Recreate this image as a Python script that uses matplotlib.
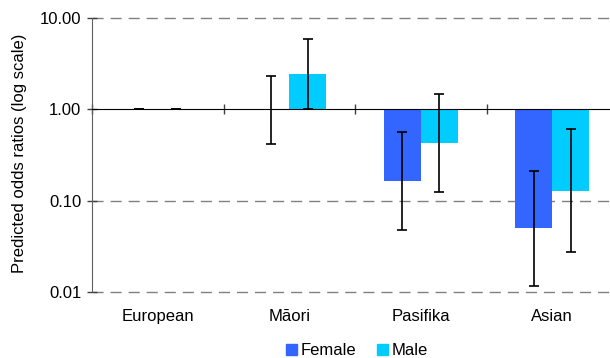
import matplotlib
matplotlib.use("Agg")
import matplotlib.pyplot as plt
import matplotlib.ticker as mticker
from matplotlib.patches import Patch
import numpy as np

categories = ["European", "Māori", "Pasifika", "Asian"]
female = [1.0, 1.0, 0.165, 0.0505]
male = [1.0, 2.41, 0.428, 0.128]
female_lo = [1.0, 0.42, 0.048, 0.0117]
female_hi = [1.0, 2.31, 0.565, 0.212]
male_lo = [1.0, 1.02, 0.125, 0.0272]
male_hi = [1.0, 5.82, 1.48, 0.615]
yticks = [0.01, 0.1, 1, 10]

plt.rcParams['font.family'] = ['Liberation Sans', 'DejaVu Sans']

fig = plt.figure(figsize=(6.1, 3.58), dpi=100)
ax = fig.add_axes([92/610, 66/358, (610-92)/610, 274/358])

x = np.arange(len(categories))
w = 0.28
c_f = '#3366FF'
c_m = '#00CCFF'

f = np.array(female); m = np.array(male)
ax.bar(x - w/2, f - 1, bottom=1, width=w, color=c_f, zorder=2)
ax.bar(x + w/2, m - 1, bottom=1, width=w, color=c_m, zorder=2)

ekw = dict(fmt='none', ecolor='black', elinewidth=1.2, capsize=3.3, capthick=1.2, zorder=4)
ax.errorbar(x - w/2, f, yerr=[f - np.array(female_lo), np.array(female_hi) - f], **ekw)
ax.errorbar(x + w/2, m, yerr=[m - np.array(male_lo), np.array(male_hi) - m], **ekw)

ax.set_yscale('log')

# gridlines
for yv in yticks:
    if yv != 1:
        ax.axhline(yv, color='#808080', lw=1, ls=(0, (8, 5)), zorder=1, clip_on=False)

ax.yaxis.set_major_locator(mticker.FixedLocator(yticks))
ax.yaxis.set_minor_locator(mticker.NullLocator())
ax.yaxis.set_major_formatter(mticker.FormatStrFormatter('%.2f'))
ax.tick_params(axis='y', direction='inout', length=7.5, width=1, color='#404040',
               labelsize=12, pad=4)

for s in ['top', 'right']:
    ax.spines[s].set_visible(False)
ax.spines['left'].set_color('#606060')
ax.spines['bottom'].set_position(('data', 1))
ax.spines['bottom'].set_color('black')
ax.spines['bottom'].set_zorder(3)

# category boundary ticks on the y=1 axis
ax.set_xticks(np.arange(len(categories) + 1) - 0.5)
ax.set_xticklabels([])
ax.tick_params(axis='x', direction='inout', length=7.5, width=1, color='#404040')

sec = ax.secondary_xaxis('bottom')
sec.set_xticks(x)
sec.set_xticklabels(categories)
sec.tick_params(axis='x', length=0, labelsize=12, pad=12)
sec.spines['bottom'].set_visible(False)

ax.set_ylim(0.01, 10)
ax.set_xlim(-0.5, -0.5 + (610-92)/131.5)

fig.text(20/610, 0.572, "Predicted odds ratios (log scale)", rotation=90,
         ha='center', va='center', fontsize=12)

handles = [Patch(color=c_f, label='Female'), Patch(color=c_m, label='Male')]
fig.legend(handles=handles, loc='center', bbox_to_anchor=(357/610, 0.02), ncol=2,
           frameon=False, fontsize=12, handlelength=0.66, handleheight=0.66,
           handletextpad=0.25, columnspacing=1.2, borderpad=0, borderaxespad=0)

fig.savefig('out.png', dpi=100)
